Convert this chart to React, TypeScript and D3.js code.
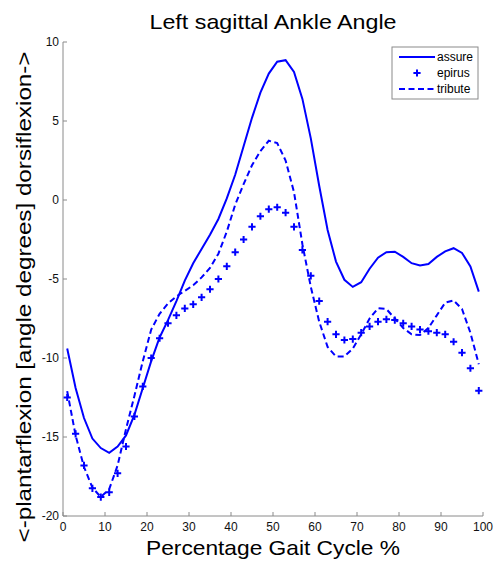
import React from "react";
import * as d3 from "d3";

// Gait cycle samples (percent), every 2%
const gaitPct: number[] = d3.range(1, 100, 2);

const assure: number[] = [
  -9.4, -11.9, -13.8, -15.1, -15.7, -16.0, -15.6, -14.9, -13.6, -11.9,
  -10.2, -8.7, -7.6, -6.4, -5.1, -4.0, -3.1, -2.2, -1.2, 0.1,
  1.6, 3.4, 5.2, 6.8, 8.0, 8.75, 8.85, 8.1, 6.4, 3.9,
  0.9, -1.9, -3.9, -5.05, -5.5, -5.2, -4.35, -3.65, -3.3, -3.27,
  -3.6, -4.0, -4.15, -4.05, -3.6, -3.25, -3.05, -3.35, -4.2, -5.8,
];

const epirus: number[] = [
  -12.5, -14.8, -16.8, -18.25, -18.8, -18.5, -17.3, -15.6, -13.7, -11.8,
  -10.0, -8.75, -7.8, -7.3, -6.86, -6.6, -6.16, -5.65, -5.0, -4.2,
  -3.3, -2.5, -1.7, -1.03, -0.58, -0.46, -0.8, -1.7, -3.16, -4.8,
  -6.4, -7.7, -8.5, -8.86, -8.8, -8.4, -8.0, -7.7, -7.55, -7.6,
  -7.8, -8.0, -8.2, -8.3, -8.4, -8.5, -8.97, -9.66, -10.65, -12.07,
];

const tribute: number[] = [
  -12.1, -14.9, -16.9, -18.2, -18.8, -18.3, -16.8, -14.5, -12.4, -10.2,
  -8.2, -7.2, -6.55, -6.1, -5.75, -5.4, -4.9, -4.3, -3.4, -2.0,
  -0.3, 1.0, 2.2, 3.1, 3.75, 3.6, 2.5, 0.5, -2.8, -5.5,
  -7.7, -9.3, -9.9, -9.9, -9.4, -8.5, -7.5, -6.85, -6.9, -7.5,
  -8.1, -8.5, -8.55, -8.1, -7.3, -6.5, -6.35, -6.9, -8.4, -10.4,
];

const xTicks: number[] = [0, 10, 20, 30, 40, 50, 60, 70, 80, 90, 100];
const yTicks: number[] = [-20, -15, -10, -5, 0, 5, 10];
const seriesNames: string[] = ["assure", "epirus", "tribute"];

const W = 502;
const H = 563;
const BLUE = "#0000ff";
const AXIS = "#8a8a8a";
const FONT = "Arial, 'Liberation Sans', Helvetica, sans-serif";

export default function App() {
  const x = d3.scaleLinear().domain([0, 100]).range([63, 483]);
  const y = d3.scaleLinear().domain([-20, 10]).range([516, 42]);

  const line = d3
    .line<number>()
    .x((_, i) => x(gaitPct[i]))
    .y((d) => y(d));

  const plus = (cx: number, cy: number, r: number, key: React.Key) => (
    <path
      key={key}
      d={`M${cx - r},${cy}H${cx + r}M${cx},${cy - r}V${cy + r}`}
      stroke={BLUE}
      strokeWidth={2}
      fill="none"
    />
  );

  const lx0 = 392;
  const ly0 = 47;
  const rowY = [57, 73, 89];

  return (
    <svg
      width={W}
      height={H}
      style={{ position: "absolute", left: 0, top: 0, background: "#fff" }}
      fontFamily={FONT}
    >
      <rect width={W} height={H} fill="#fff" />

      {/* axes */}
      <line x1={x(0)} x2={x(100)} y1={y(-20)} y2={y(-20)} stroke={AXIS} strokeWidth={1} />
      <line x1={x(0)} x2={x(0)} y1={y(-20)} y2={y(10)} stroke={AXIS} strokeWidth={1} />
      {xTicks.map((t) => (
        <g key={`xt${t}`}>
          <line x1={x(t)} x2={x(t)} y1={y(-20)} y2={y(-20) - 4} stroke={AXIS} />
          <text x={x(t)} y={531} textAnchor="middle" fontSize={12} fill="#111">
            {t}
          </text>
        </g>
      ))}
      {yTicks.map((t) => (
        <g key={`yt${t}`}>
          <line x1={x(0)} x2={x(0) + 4} y1={y(t)} y2={y(t)} stroke={AXIS} />
          <text x={59} y={y(t) + 4} textAnchor="end" fontSize={12} fill="#111">
            {t}
          </text>
        </g>
      ))}

      {/* series */}
      <path d={line(assure) ?? ""} fill="none" stroke={BLUE} strokeWidth={2} />
      <path
        d={line(tribute) ?? ""}
        fill="none"
        stroke={BLUE}
        strokeWidth={2}
        strokeDasharray="6,3.5"
      />
      {epirus.map((v, i) => plus(x(gaitPct[i]), y(v), 3.6, `ep${i}`))}

      {/* titles */}
      <text
        x={273}
        y={29}
        textAnchor="middle"
        fontSize={21}
        fill="#000"
        textLength={247}
        lengthAdjust="spacingAndGlyphs"
      >
        Left sagittal Ankle Angle
      </text>
      <text
        x={273}
        y={555}
        textAnchor="middle"
        fontSize={21}
        fill="#000"
        textLength={254}
        lengthAdjust="spacingAndGlyphs"
      >
        Percentage Gait Cycle %
      </text>
      <text
        transform={`translate(31,297) rotate(-90)`}
        textAnchor="middle"
        fontSize={21}
        fill="#000"
        textLength={491}
        lengthAdjust="spacingAndGlyphs"
      >
        {"<-plantarflexion [angle degrees] dorsiflexion->"}
      </text>

      {/* legend */}
      <rect x={lx0} y={ly0} width={86} height={52} fill="#fff" stroke={AXIS} strokeWidth={1} />
      <line x1={399} x2={435} y1={rowY[0]} y2={rowY[0]} stroke={BLUE} strokeWidth={2} />
      {plus(417, rowY[1], 3.6, "legplus")}
      <line
        x1={399}
        x2={435}
        y1={rowY[2]}
        y2={rowY[2]}
        stroke={BLUE}
        strokeWidth={2}
        strokeDasharray="6,3.5"
      />
      {seriesNames.map((n, i) => (
        <text key={n} x={437} y={rowY[i] + 4} fontSize={12} fill="#000">
          {n}
        </text>
      ))}
    </svg>
  );
}
